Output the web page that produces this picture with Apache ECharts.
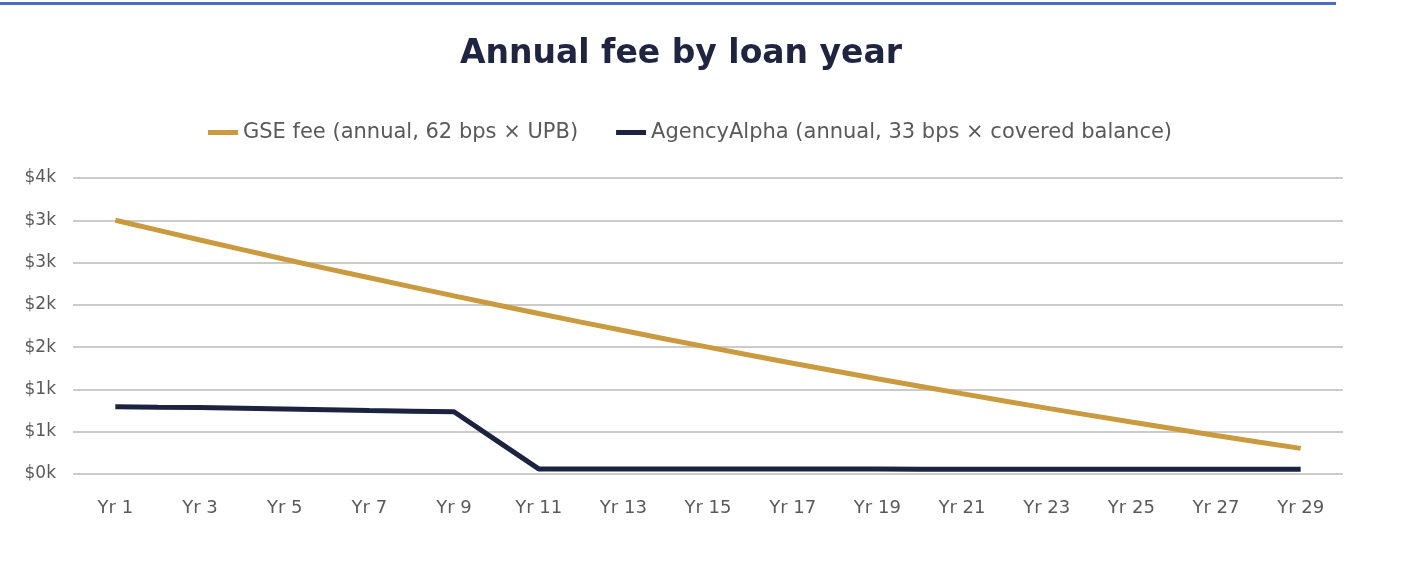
<!DOCTYPE html>
<html>
<head>
<meta charset="utf-8">
<script src="https://cdn.jsdelivr.net/npm/echarts@6/dist/echarts.min.js"></script>
<style>
  html, body { margin: 0; padding: 0; background: #fff; }
  #chart { width: 1408px; height: 572px; }
</style>
</head>
<body>
<div id="chart"></div>
<script>
// categories: loan years
const years = ['Yr 1','Yr 2','Yr 3','Yr 4','Yr 5','Yr 6','Yr 7','Yr 8','Yr 9','Yr 10',
  'Yr 11','Yr 12','Yr 13','Yr 14','Yr 15','Yr 16','Yr 17','Yr 18','Yr 19','Yr 20',
  'Yr 21','Yr 22','Yr 23','Yr 24','Yr 25','Yr 26','Yr 27','Yr 28','Yr 29']

// GSE fee (annual, 62 bps x UPB)
const gseFee = [3000, 2883, 2767, 2653, 2540, 2429, 2320, 2212, 2106, 2001,
  1898, 1796, 1696, 1597, 1500, 1404, 1310, 1218, 1127, 1038,
  950, 864, 779, 696, 614, 534, 455, 378, 303]

// AgencyAlpha (annual, 33 bps x covered balance)
const agencyFee = [795, 790, 786, 777, 768, 759, 750, 743, 736, 398,
  60, 60, 60, 59, 59, 59, 58, 58, 58, 57,
  57, 57, 57, 56, 56, 56, 56, 55, 55]

const seriesNames = ['GSE fee (annual, 62 bps \u00d7 UPB)', 'AgencyAlpha (annual, 33 bps \u00d7 covered balance)']

// y-axis ticks
const yMin = 0, yMax = 3500, yStep = 500

// Excel style axis leaves one empty slot at each end
const xData = [''].concat(years, [''])
const pad = arr => [null].concat(arr, [null])

const chart = echarts.init(document.getElementById('chart'))
const option = {
  animation: false,
  color: ['#C99A3E', '#1B2340'],
  graphic: [
    {type: 'rect', left: 0, top: 2, shape: {width: 1336, height: 3}, style: {fill: '#4A6DC2'}}
  ],
  title: {
    text: 'Annual fee by loan year',
    left: 455,
    top: 33,
    textStyle: {fontFamily: 'DejaVu Sans', fontWeight: 'bold', fontSize: 33, color: '#1F2440'}
  },
  legend: {
    top: 117,
    left: 203,
    icon: 'rect',
    itemWidth: 30,
    itemHeight: 5,
    itemGap: 38,
    textStyle: {fontFamily: 'DejaVu Sans', fontSize: 21, color: '#595959'},
    data: seriesNames
  },
  grid: {left: 73, right: 65, top: 178, height: 296},
  xAxis: {
    type: 'category',
    data: xData,
    boundaryGap: false,
    axisLine: {show: false},
    axisTick: {show: false},
    axisLabel: {
      interval: (i) => i % 2 === 1,
      margin: 25,
      fontFamily: 'DejaVu Sans', fontSize: 18, color: '#595959'
    }
  },
  yAxis: {
    type: 'value',
    min: yMin, max: yMax, interval: yStep,
    axisLine: {show: false},
    axisTick: {show: false},
    splitLine: {lineStyle: {color: '#CBCBCB', width: 2}},
    axisLabel: {
      margin: 17,
      fontFamily: 'DejaVu Sans', fontSize: 17, color: '#595959',
      formatter: v => '$' + Math.round(v / 1000) + 'k'
    }
  },
  series: [
    {
      name: seriesNames[0], type: 'line', data: pad(gseFee),
      symbol: 'none', lineStyle: {width: 5, color: '#C99A3E'}
    },
    {
      name: seriesNames[1], type: 'line', data: pad(agencyFee),
      symbol: 'none', lineStyle: {width: 5, color: '#1B2340'}
    }
  ]
}
chart.setOption(option)
</script>
</body>
</html>
